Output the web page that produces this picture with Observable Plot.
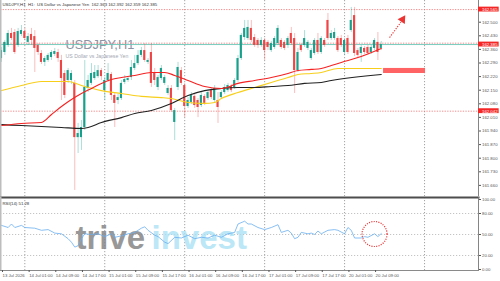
<!DOCTYPE html>
<html><head><meta charset="utf-8">
<script src="https://cdn.jsdelivr.net/npm/d3@7"></script>
<script src="https://cdn.jsdelivr.net/npm/@observablehq/plot@0.6"></script>
<style>
html,body{margin:0;padding:0;background:#fff;}
#chart{width:500px;height:281px;position:relative;overflow:hidden;background:#fff;}
#chart svg{display:block;}
</style></head><body><div id="chart"></div>
<script>
// ---- data (USDJPY H1, bar index 0 = 13 Jul 2026 17:00) ----
const openP = [162.313,162.344,162.380,162.442,162.447,162.380,162.437,162.452,162.396,162.437,162.426,162.380,162.339,162.293,162.303,162.318,162.334,162.344,162.303,162.236,162.200,162.200,162.185,161.906,161.906,161.958,162.159,162.185,162.210,162.220,162.251,162.148,162.200,162.231,162.123,162.097,162.107,162.190,162.200,162.215,162.262,162.287,162.329,162.354,162.293,162.344,162.241,162.164,162.210,162.185,162.133,162.159,161.984,162.164,162.251,162.174,162.066,162.087,162.118,162.097,162.071,162.118,162.107,162.148,162.097,162.097,162.112,162.138,162.148,162.169,162.164,162.200,162.313,162.421,162.416,162.468,162.421,162.406,162.380,162.406,162.396,162.354,162.370,162.390,162.406,162.396,162.380,162.442,162.416,162.251,162.380,162.380,162.365,162.313,162.339,162.406,162.344,162.406,162.509,162.416,162.416,162.416,162.416,162.344,162.416,162.457,162.534,162.354,162.339,162.365,162.370,162.344,162.365,162.396,162.365];
const highP = [162.370,162.406,162.457,162.468,162.462,162.468,162.483,162.468,162.442,162.468,162.457,162.390,162.354,162.323,162.339,162.354,162.365,162.360,162.329,162.251,162.262,162.251,162.200,161.979,161.994,162.303,162.226,162.287,162.277,162.277,162.262,162.215,162.287,162.241,162.133,162.128,162.200,162.226,162.220,162.303,162.329,162.354,162.370,162.390,162.313,162.390,162.262,162.226,162.277,162.226,162.174,162.174,162.056,162.293,162.267,162.185,162.112,162.138,162.128,162.107,162.138,162.128,162.148,162.159,162.174,162.138,162.148,162.179,162.185,162.179,162.210,162.329,162.442,162.509,162.509,162.509,162.437,162.416,162.421,162.416,162.406,162.401,162.426,162.483,162.416,162.406,162.426,162.473,162.442,162.365,162.390,162.457,162.406,162.365,162.416,162.442,162.426,162.416,162.545,162.457,162.468,162.426,162.432,162.416,162.432,162.576,162.576,162.365,162.380,162.375,162.380,162.380,162.416,162.447,162.401];
const lowP = [162.293,162.329,162.370,162.406,162.334,162.370,162.426,162.406,162.380,162.380,162.241,162.329,162.282,162.272,162.293,162.303,162.323,162.293,162.097,162.107,162.185,162.179,161.634,161.824,161.840,161.943,162.138,162.174,162.200,162.210,162.200,162.097,162.190,162.097,161.958,162.076,162.097,162.179,162.190,162.200,162.251,162.277,162.318,162.293,162.282,162.164,162.174,162.148,162.200,162.174,162.123,162.035,161.891,162.148,162.174,162.009,162.056,162.076,162.056,162.009,162.061,162.071,162.097,162.102,162.087,161.979,162.102,162.128,162.138,162.138,162.154,162.190,162.303,162.406,162.406,162.396,162.370,162.365,162.370,162.303,162.354,162.344,162.360,162.380,162.360,162.354,162.365,162.380,162.133,162.241,162.344,162.370,162.354,162.303,162.329,162.334,162.334,162.370,162.406,162.406,162.406,162.344,162.370,162.329,162.334,162.447,162.323,162.318,162.293,162.334,162.329,162.334,162.354,162.303,162.354];
const closeP = [162.354,162.396,162.442,162.416,162.344,162.452,162.457,162.416,162.426,162.406,162.365,162.344,162.293,162.313,162.329,162.344,162.349,162.313,162.210,162.123,162.251,162.236,161.906,161.927,161.958,162.164,162.200,162.236,162.241,162.251,162.220,162.200,162.236,162.123,162.082,162.112,162.185,162.205,162.210,162.267,162.287,162.329,162.354,162.303,162.303,162.185,162.200,162.215,162.262,162.215,162.159,162.045,162.045,162.267,162.185,162.066,162.097,162.123,162.071,162.061,162.123,162.082,162.138,162.112,162.159,162.061,162.138,162.164,162.174,162.148,162.200,162.313,162.432,162.468,162.473,162.406,162.380,162.380,162.406,162.354,162.370,162.390,162.416,162.468,162.370,162.365,162.416,162.390,162.251,162.344,162.354,162.416,162.396,162.354,162.406,162.344,162.416,162.380,162.416,162.442,162.447,162.354,162.380,162.406,162.344,162.509,162.339,162.329,162.370,162.344,162.339,162.370,162.406,162.344,162.385];

// moving averages, read at selected bars
const maRedIdx = [0,6,12,15,18,21,24,27,30,33,36,40,45,49,52,56,61,66,71,76,81,86,89,93,96,99,102,107,114];
const maRedVal = [161.968,161.979,161.984,162.025,162.066,162.102,162.133,162.159,162.185,162.205,162.215,162.226,162.241,162.241,162.226,162.200,162.169,162.159,162.185,162.200,162.215,162.236,162.251,162.257,162.262,162.277,162.293,162.318,162.365];
const maYellowIdx = [0,6,12,20,24,30,36,42,48,51,56,61,64,66,71,76,81,86,89,93,96,101,114];
const maYellowVal = [162.148,162.174,162.195,162.195,162.174,162.148,162.133,162.118,162.112,162.107,162.087,162.082,162.087,162.107,162.138,162.164,162.190,162.215,162.231,162.236,162.241,162.262,162.262];
const maBlackIdx = [0,6,12,18,24,26,30,36,40,45,51,56,61,66,71,76,81,86,91,96,99,114];
const maBlackVal = [161.973,161.968,161.963,161.958,161.953,161.958,161.984,162.009,162.030,162.046,162.082,162.123,162.148,162.159,162.164,162.164,162.169,162.174,162.185,162.190,162.200,162.231];

// RSI(14)
const rsiIdx = [0,2,3,4,6,7,10,12,14,16,18,20,21,22,23,24,25,27,29,31,33,34,36,38,40,42,43,44,46,47,49,50,52,54,56,58,60,62,64,66,68,70,71,73,74,75,77,79,81,83,84,86,87,88,89,90,92,93,94,95,96,98,100,101,103,104,105,106,108,109,110,112,113,114];
const rsiVal = [63,60,65,60,63,60,59,56,57,52,51,44,39,32,34,44,51,50,51,47,51,46,48,51,53,59,61,56,49,47,39,37,46,45,49,44,46,45,49,46,51,53,65,69,65,65,60,57,60,64,53,56,52,44,46,53,51,52,50,55,51,56,57,56,51,60,56,45,45,47,46,51,47,51.28];

// ticks and labels
const timeTickIdx = [0,8,16,24,32,40,48,56,64,72,80,88,96,104,112];
const timeTickLabels = ["13 Jul 2026","14 Jul 01:00","14 Jul 09:00","14 Jul 17:00","15 Jul 01:00","15 Jul 09:00","15 Jul 17:00","16 Jul 01:00","16 Jul 09:00","16 Jul 17:00","17 Jul 01:00","17 Jul 09:00","17 Jul 17:00","20 Jul 01:00","20 Jul 09:00"];
const dayStartIdx = [7,31,55,79,103,127];
const priceTicks = [162.50,162.43,162.36,162.29,162.22,162.15,162.08,162.01,161.94,161.87,161.80,161.73,161.66];
const rsiTicks = [0,20,50,80,100];

// levels and annotations
const targetLevel = 162.565;
const entryLevel = 162.392;
const bidLevel = 162.385;
const lowLevel = 162.042;
const markedLevels = [162.565,162.385,162.042];
const stopZone = [{x1:114.7, x2:127.3, y1:162.236, y2:162.262}];
const arrowAnno = [{x1:116.5, y1:162.421, x2:119.9, y2:162.500, tx:120.4, ty:162.514}];
const circleAnno = [{i:112, v:50.7}];
const headerText = "USDJPY,H1  H1:  US Dollar vs Japanese Yen  162.363 162.392 162.359 162.385";
const rsiLabel = "RSI(14) 51.28";

// ---- build ----
const candles = openP.map((o, i) => ({i, open:o, high:highP[i], low:lowP[i], close:closeP[i]}));
const up = d => d.close >= d.open;
const pts = (idx, val) => idx.map((x, k) => ({x, y: val[k]}));
const TEAL = "#17a08b", RED = "#f04545";
const xDomain = [-0.3, 143.2];
const pxPerPrice = 0.005147;
const yTop = 162.6117;
const mainH = 196;
const font = "'Liberation Sans', Arial, sans-serif";

const main = Plot.plot({
  width: 500, height: mainH,
  marginTop: 0, marginBottom: 0, marginLeft: 0, marginRight: 22,
  x: {domain: xDomain, axis: null},
  y: {domain: [yTop - mainH * pxPerPrice, yTop], axis: null},
  style: {fontFamily: font, background: "#fff", overflow: "visible"},
  marks: [
    Plot.ruleX(dayStartIdx, {stroke: "#8c8c8c", strokeDasharray: "1.2,1.8", strokeWidth: 0.8}),
    Plot.text([headerText], {text: d => d, frameAnchor: "top-left", dx: 2, dy: 4, fontSize: 4.3, fill: "#333", textAnchor: "start", lineAnchor: "middle"}),
    Plot.text(["USDJPY,H1"], {text: d => d, frameAnchor: "top-left", dx: 65, dy: 44, fontSize: 12.8, fill: "#8d93a3", textAnchor: "start", lineAnchor: "middle"}),
    Plot.text(["US Dollar vs Japanese Yen"], {text: d => d, frameAnchor: "top-left", dx: 65, dy: 55.5, fontSize: 5.2, fill: "#a3a8b4", textAnchor: "start", lineAnchor: "middle"}),
    Plot.ruleY([targetLevel], {stroke: "#f07070", strokeDasharray: "1.3,1.3", strokeWidth: 0.8}),
    Plot.ruleY([lowLevel], {stroke: "#f07070", strokeDasharray: "1.3,1.3", strokeWidth: 0.8}),
    Plot.ruleY([entryLevel], {stroke: "#f07070", strokeDasharray: "1.3,1.3", strokeWidth: 0.8}),
    Plot.ruleY([bidLevel], {stroke: "#6ac7b9", strokeWidth: 0.9}),
    // candles
    Plot.ruleX(candles, {filter: up, x: "i", y1: "low", y2: "high", stroke: TEAL, strokeOpacity: 0.45, strokeWidth: 0.8}),
    Plot.ruleX(candles, {filter: d => !up(d), x: "i", y1: "low", y2: "high", stroke: RED, strokeOpacity: 0.45, strokeWidth: 0.8}),
    Plot.rect(candles, {filter: up, x1: d => d.i - 0.32, x2: d => d.i + 0.32, y1: "open", y2: "close", fill: TEAL}),
    Plot.rect(candles, {filter: d => !up(d), x1: d => d.i - 0.32, x2: d => d.i + 0.32, y1: "open", y2: "close", fill: RED}),
    // moving averages
    Plot.line(pts(maYellowIdx, maYellowVal), {x: "x", y: "y", stroke: "#f7cf1b", strokeWidth: 1.1, curve: "monotone-x"}),
    Plot.line(pts(maBlackIdx, maBlackVal), {x: "x", y: "y", stroke: "#222", strokeWidth: 1.1, curve: "monotone-x"}),
    Plot.line(pts(maRedIdx, maRedVal), {x: "x", y: "y", stroke: "#f52222", strokeWidth: 1.1, curve: "monotone-x"}),
    // stop zone + arrow
    Plot.rect(stopZone, {x1: "x1", x2: "x2", y1: "y1", y2: "y2", fill: "#ff6363"}),
    Plot.link(arrowAnno, {x1: "x1", y1: "y1", x2: "x2", y2: "y2", stroke: "#ee3333", strokeDasharray: "1.3,1.3", strokeWidth: 1.1}),
    Plot.dot(arrowAnno, {x: "tx", y: "ty", symbol: "triangle", r: 3.2, rotate: 33, fill: "#ee3333", stroke: "none"}),
    // right axis
    Plot.ruleX([xDomain[1]], {stroke: "#777", strokeWidth: 0.9}),
    Plot.ruleX([xDomain[0]], {stroke: "#bdbdbd", strokeWidth: 2}),
    Plot.axisY({anchor: "right", ticks: priceTicks, tickFormat: d3.format(".3f"), tickSize: 2, tickPadding: 1.5, fontSize: 4.3, color: "#555"}),
    Plot.rect(markedLevels, {x1: xDomain[1], x2: xDomain[1] + 6.2, y1: d => d - 0.0125, y2: d => d + 0.0125, fill: "#f52626"}),
    Plot.text(markedLevels, {x: xDomain[1], y: d => d, text: d3.format(".3f"), dx: 3.5, textAnchor: "start", fontSize: 4.3, fill: "#fff"})
  ]
});

const labelOf = new Map(timeTickIdx.map((t, k) => [t, timeTickLabels[k]]));
const rsiPlot = Plot.plot({
  width: 500, height: 85,
  marginTop: 1, marginBottom: 11, marginLeft: 0, marginRight: 22,
  x: {domain: xDomain, axis: null},
  y: {domain: [0, 100], range: [73, 3], axis: null},
  style: {fontFamily: font, background: "#fff", overflow: "visible"},
  marks: [
    Plot.ruleX(dayStartIdx, {stroke: "#8c8c8c", strokeDasharray: "1.2,1.8", strokeWidth: 0.8}),
    Plot.ruleY([20, 50, 80], {stroke: "#b5b5b5", strokeDasharray: "1.2,1.8", strokeWidth: 0.8}),
    Plot.text(["trive"], {text: d => d, frameAnchor: "top-left", dx: 75, dy: 41, fontSize: 33, fontWeight: "bold", fill: "#858585", fillOpacity: 0.85, textAnchor: "start", lineAnchor: "middle"}),
    Plot.text(["invest"], {text: d => d, frameAnchor: "top-left", dx: 151, dy: 41, fontSize: 33, fontWeight: "bold", fill: "#a9e1f4", fillOpacity: 0.8, textAnchor: "start", lineAnchor: "middle"}),
    Plot.line(pts(rsiIdx, rsiVal), {x: "x", y: "y", stroke: "#69aef0", strokeWidth: 0.8}),
    Plot.dot(circleAnno, {x: "i", y: "v", r: 12.5, stroke: "#e83535", strokeWidth: 1.2, strokeDasharray: "1.1,1.3", fill: "none"}),
    Plot.text([rsiLabel], {text: d => d, frameAnchor: "top-left", dx: 2, dy: 6, fontSize: 4.3, fill: "#333", textAnchor: "start", lineAnchor: "middle"}),
    Plot.frame({anchor: "top", stroke: "#4d4d4d", strokeWidth: 2}),
    Plot.frame({anchor: "bottom", stroke: "#8a8a8a", strokeWidth: 1}),
    Plot.ruleX([xDomain[1]], {stroke: "#777", strokeWidth: 0.9}),
    Plot.ruleX([xDomain[0]], {stroke: "#bdbdbd", strokeWidth: 2}),
    Plot.axisY({anchor: "right", ticks: rsiTicks, tickFormat: d3.format(".2f"), tickSize: 2, tickPadding: 1.5, fontSize: 4.3, color: "#555"}),
    Plot.axisX({anchor: "bottom", ticks: timeTickIdx, tickFormat: d => labelOf.get(d), tickSize: 2, tickPadding: 1.5, textAnchor: "start", dx: 1, fontSize: 4.3, color: "#555"})
  ]
});

const host = document.getElementById("chart");
host.appendChild(main);
host.appendChild(rsiPlot);
</script></body></html>
